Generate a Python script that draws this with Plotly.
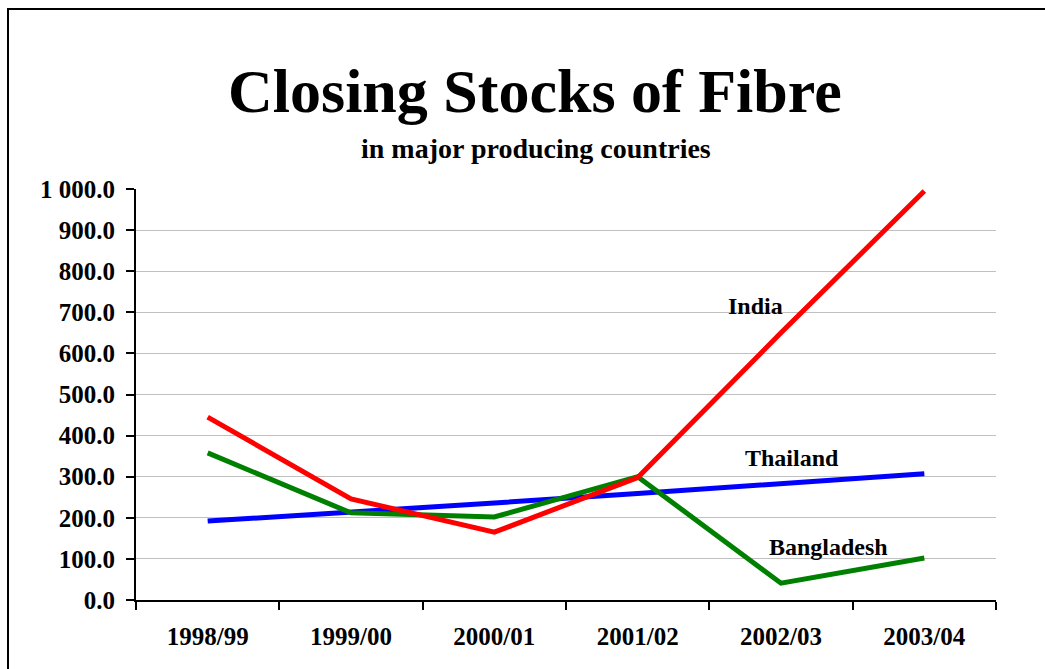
import plotly.graph_objects as go

years = ["1998/99", "1999/00", "2000/01", "2001/02", "2002/03", "2003/04"]
india = [445, 246, 165, 298, 650, 995]
bangladesh = [358, 212, 202, 300, 41, 102]
thailand = [192, 213, 236, 259, 284, 307]
y_ticks = [0, 100, 200, 300, 400, 500, 600, 700, 800, 900, 1000]

FONT = "Liberation Serif"

fig = go.Figure()
for name, vals, col in [("Thailand", thailand, "#0000ff"),
                        ("Bangladesh", bangladesh, "#008000"),
                        ("India", india, "#ff0000")]:
    fig.add_trace(go.Scatter(x=years, y=vals, mode="lines", name=name,
                             line=dict(color=col, width=5), showlegend=False))

W, H = 1045, 669
L, R, T, B = 136, 49, 189, 69
pw, ph = W - L - R, H - T - B

def px(xp):
    return (xp - L) / pw

def py(yp):
    return (H - B - yp) / ph

fig.add_shape(type="rect", xref="paper", yref="paper",
              x0=px(8), x1=px(1070), y0=py(700), y1=py(9),
              line=dict(color="black", width=2), fillcolor="rgba(0,0,0,0)",
              layer="below")

fig.add_annotation(text="<b>Closing Stocks of Fibre</b>", xref="paper", yref="paper",
                   x=px(535), y=py(91), showarrow=False, xanchor="center", yanchor="middle",
                   font=dict(family=FONT, size=62, color="black"))
fig.add_annotation(text="<b>in major producing countries</b>", xref="paper", yref="paper",
                   x=px(536), y=py(148), showarrow=False, xanchor="center", yanchor="middle",
                   font=dict(family=FONT, size=28, color="black"))

for txt, xp, yp in [("India", 755, 306), ("Thailand", 792, 458), ("Bangladesh", 828, 547)]:
    fig.add_annotation(text=f"<b>{txt}</b>", xref="paper", yref="paper",
                       x=px(xp), y=py(yp), showarrow=False,
                       xanchor="center", yanchor="middle",
                       font=dict(family=FONT, size=24, color="black"))

fig.update_layout(
    width=W, height=H,
    margin=dict(l=L, r=R, t=T, b=B, pad=0),
    plot_bgcolor="white", paper_bgcolor="white",
    separators=". ",
    font=dict(family=FONT, color="black"),
    xaxis=dict(type="category", range=[-0.5, 5.5], showgrid=False,
               showline=True, linecolor="black", linewidth=2,
               ticks="outside", tickson="boundaries", ticklen=8, tickwidth=2,
               tickcolor="black", ticklabelstandoff=13,
               tickfont=dict(family=FONT, size=25, color="black", weight="bold"),
               fixedrange=True),
    yaxis=dict(range=[0, 1000], tickvals=y_ticks, tickformat=",.1f",
               showgrid=True, gridcolor="#c0c0c0", gridwidth=1,
               showline=True, linecolor="black", linewidth=2,
               ticks="outside", ticklen=8, tickwidth=2, tickcolor="black",
               ticklabelstandoff=6, zeroline=False,
               tickfont=dict(family=FONT, size=25, color="black", weight="bold"),
               fixedrange=True),
)

fig.write_html("out.html", config={"displayModeBar": False},
               post_script="document.body.style.margin='0';document.body.style.overflow='hidden';")
